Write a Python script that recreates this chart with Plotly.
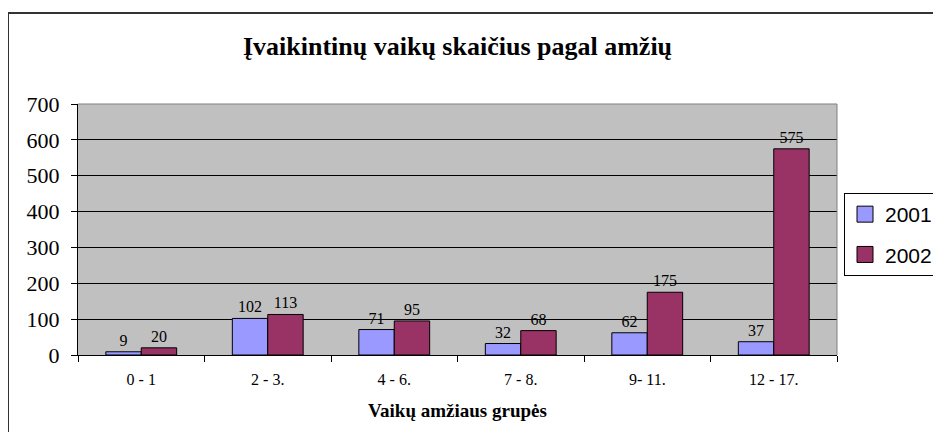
import plotly.graph_objects as go

categories = ["0 - 1", "2 - 3.", "4 - 6.", "7 - 8.", "9- 11.", "12 - 17."]
values_2001 = [9, 102, 71, 32, 62, 37]
values_2002 = [20, 113, 95, 68, 175, 575]
y_ticks = [0, 100, 200, 300, 400, 500, 600, 700]
series_names = ["2001", "2002"]
series_colors = ["#9999FF", "#993366"]

serif = "Liberation Serif, Times New Roman, serif"

fig = go.Figure()
for name, vals, col in zip(series_names, [values_2001, values_2002], series_colors):
    fig.add_trace(go.Bar(
        name=name, x=categories, y=vals, showlegend=False,
        marker=dict(color=col, line=dict(color="black", width=1)),
        text=[str(v) for v in vals], textposition="outside", constraintext="none",
        textfont=dict(family=serif, size=16, color="black"), cliponaxis=False,
    ))
# legend entries with large square swatches
for name, col in zip(series_names, series_colors):
    fig.add_trace(go.Scatter(
        name=name, x=[None], y=[None], mode="markers", legendgroup=name,
        marker=dict(symbol="square", size=17, color=col, line=dict(color="black", width=1)),
    ))

# page has an 8px body margin, so figure coords = page coords - 8
OFF = 8
W, H = 941 - OFF, 432 - OFF
L, R, T, B = 78 - OFF, 837 - OFF, 104 - OFF, 355 - OFF
pw, ph = R - L, B - T

def px(x):
    return (x - OFF - L) / pw

def py(y):
    return (B - (y - OFF)) / ph

fig.update_layout(
    width=W, height=H,
    margin=dict(l=L, r=W - R, t=T, b=H - B, autoexpand=False),
    paper_bgcolor="white",
    plot_bgcolor="#C0C0C0",
    barmode="group",
    bargap=0.44,
    bargroupgap=0,
    showlegend=True,
    title=dict(text="<b>Įvaikintinų vaikų skaičius pagal amžių</b>",
               x=0.5, xref="paper", xanchor="center", y=1 - (46 - OFF) / H, yanchor="middle",
               font=dict(family=serif, size=26, color="black")),
    legend=dict(x=px(844), y=py(193), xanchor="left", yanchor="top",
                bordercolor="black", borderwidth=1, bgcolor="white",
                font=dict(family="Liberation Sans, Arial, sans-serif", size=21, color="black"),
                tracegroupgap=10, itemwidth=30),
    xaxis=dict(
        type="category", tickson="boundaries", ticks="outside", ticklen=6,
        tickcolor="black", showline=True, linecolor="black", linewidth=1,
        tickfont=dict(family=serif, size=16, color="black"), ticklabelstandoff=10,
        title=dict(text="<b>Vaikų amžiaus grupės</b>", standoff=16,
                   font=dict(family=serif, size=19, color="black")),
        showgrid=False, range=[-0.5, 5.5],
    ),
    yaxis=dict(
        range=[0, 700], tickvals=y_ticks, ticks="outside", ticklen=6,
        tickcolor="black", showline=True, linecolor="black", linewidth=1,
        showgrid=True, gridcolor="black", gridwidth=1,
        tickfont=dict(family=serif, size=22, color="black"), ticklabelstandoff=7,
        zeroline=False,
    ),
    shapes=[
        dict(type="rect", xref="paper", yref="paper",
             x0=px(8), x1=px(960), y0=py(470), y1=py(13),
             line=dict(color="#333333", width=2), fillcolor="rgba(0,0,0,0)", layer="below"),
        dict(type="line", xref="paper", yref="paper", x0=0, x1=1, y0=1, y1=1,
             line=dict(color="#808080", width=1)),
        dict(type="line", xref="paper", yref="paper", x0=1, x1=1, y0=0, y1=1,
             line=dict(color="#808080", width=1)),
    ],
)

fig.write_html("out.html")
